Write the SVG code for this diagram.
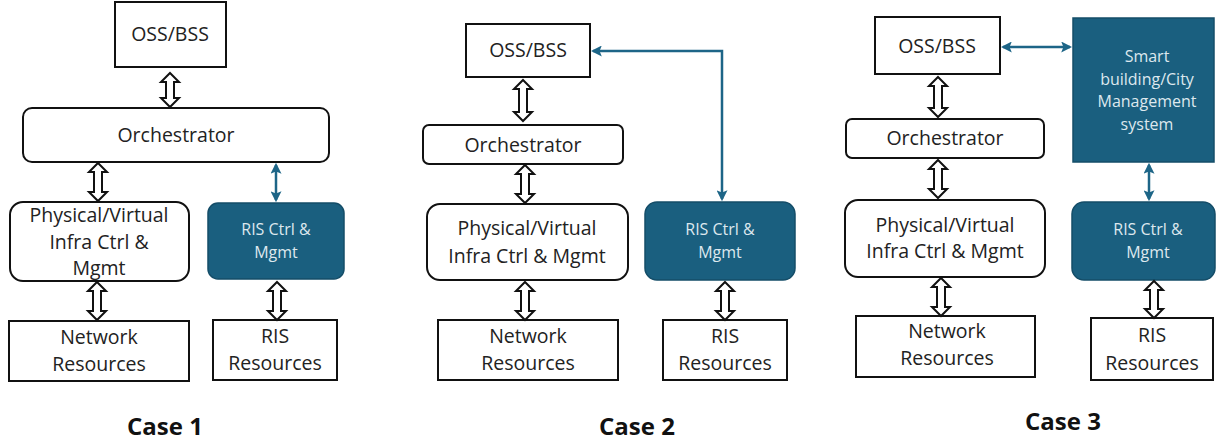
<svg xmlns="http://www.w3.org/2000/svg" width="1216" height="444" viewBox="0 0 1216 444">
<style>
.box{fill:#ffffff;stroke:#111111;stroke-width:2}
.tbox{fill:#1a5f7f;stroke:#144d68;stroke-width:1.5}
.t{font-family:"Open Sans","Liberation Sans",sans-serif;font-size:19.5px;fill:#222222;text-anchor:middle}
.tw{font-family:"Open Sans","Liberation Sans",sans-serif;font-size:16px;fill:#dde8ee;text-anchor:middle}
.case{font-family:"Open Sans","Liberation Sans",sans-serif;font-size:24px;font-weight:bold;fill:#111111;text-anchor:middle}
.ha{fill:#ffffff;stroke:#111111;stroke-width:2;stroke-linejoin:miter}
.ba{fill:none;stroke:#1d6587;stroke-width:2.5;marker-start:url(#ah);marker-end:url(#ah)}
</style>
<defs>
<marker id="ah" viewBox="0 0 10 10" refX="8" refY="5" markerWidth="4.4" markerHeight="4.4" orient="auto-start-reverse" markerUnits="strokeWidth">
<path d="M0,0 L10,5 L0,10 L2,5 Z" fill="#1d6587"/>
</marker>
</defs>

<!-- Case 1 -->
<g id="c1-oss"><rect class="box" x="115" y="2" width="111" height="65"/><text class="t" x="170" y="41">OSS/BSS</text></g>
<g id="c1-orch"><rect class="box" x="23" y="108" width="306" height="54" rx="9"/><text class="t" x="176" y="142">Orchestrator</text></g>
<g id="c1-pv"><rect class="box" x="10" y="202" width="179" height="79" rx="13"/><text class="t" x="99" y="222">Physical/Virtual</text><text class="t" x="99" y="249">Infra Ctrl &amp;</text><text class="t" x="99" y="275">Mgmt</text></g>
<g id="c1-ris"><rect class="tbox" x="208" y="203" width="136" height="76" rx="10"/><text class="tw" x="276" y="235">RIS Ctrl &amp;</text><text class="tw" x="276" y="258">Mgmt</text></g>
<g id="c1-net"><rect class="box" x="9" y="321" width="180" height="60"/><text class="t" x="99" y="344">Network</text><text class="t" x="99" y="371">Resources</text></g>
<g id="c1-risres"><rect class="box" x="213" y="320" width="124" height="60"/><text class="t" x="275" y="343">RIS</text><text class="t" x="275" y="370">Resources</text></g>
<text class="case" x="165" y="435">Case 1</text>

<!-- Case 2 -->
<g id="c2-oss"><rect class="box" x="466" y="24" width="124" height="53"/><text class="t" x="528" y="57">OSS/BSS</text></g>
<g id="c2-orch"><rect class="box" x="423" y="125" width="200" height="39" rx="6"/><text class="t" x="523" y="152">Orchestrator</text></g>
<g id="c2-pv"><rect class="box" x="427" y="204" width="201" height="76" rx="13"/><text class="t" x="527" y="235">Physical/Virtual</text><text class="t" x="527" y="263">Infra Ctrl &amp; Mgmt</text></g>
<g id="c2-ris"><rect class="tbox" x="645" y="202" width="150" height="78" rx="12"/><text class="tw" x="720" y="235">RIS Ctrl &amp;</text><text class="tw" x="720" y="258">Mgmt</text></g>
<g id="c2-net"><rect class="box" x="438" y="320" width="180" height="60"/><text class="t" x="528" y="343">Network</text><text class="t" x="528" y="370">Resources</text></g>
<g id="c2-risres"><rect class="box" x="663" y="320" width="124" height="60"/><text class="t" x="725" y="343">RIS</text><text class="t" x="725" y="370">Resources</text></g>
<text class="case" x="637" y="435">Case 2</text>

<!-- Case 3 -->
<g id="c3-oss"><rect class="box" x="875" y="17" width="125" height="57"/><text class="t" x="937" y="53">OSS/BSS</text></g>
<g id="c3-smart"><rect x="1073" y="18" width="141" height="144" fill="#1a5f7f" stroke="#144d68" stroke-width="1.5"/><text class="tw" x="1147" y="62">Smart</text><text class="tw" x="1147" y="85">building/City</text><text class="tw" x="1147" y="107">Management</text><text class="tw" x="1147" y="130">system</text></g>
<g id="c3-orch"><rect class="box" x="846" y="119" width="198" height="39" rx="6"/><text class="t" x="945" y="145">Orchestrator</text></g>
<g id="c3-pv"><rect class="box" x="845" y="200" width="200" height="77" rx="13"/><text class="t" x="945" y="232">Physical/Virtual</text><text class="t" x="945" y="258">Infra Ctrl &amp; Mgmt</text></g>
<g id="c3-ris"><rect class="tbox" x="1072" y="202" width="143" height="78" rx="12"/><text class="tw" x="1148" y="235">RIS Ctrl &amp;</text><text class="tw" x="1148" y="258">Mgmt</text></g>
<g id="c3-net"><rect class="box" x="856" y="316" width="179" height="61"/><text class="t" x="947" y="338">Network</text><text class="t" x="947" y="365">Resources</text></g>
<g id="c3-risres"><rect class="box" x="1091" y="318" width="122" height="62"/><text class="t" x="1152" y="342">RIS</text><text class="t" x="1152" y="370">Resources</text></g>
<text class="case" x="1063" y="430">Case 3</text>

<g id="connectors">
<path class="ha" d="M170,73 L179,82 L174,82 L174,98 L179,98 L170,107 L161,98 L166,98 L166,82 L161,82 Z"/>
<path class="ha" d="M98,163 L107,172 L102,172 L102,192 L107,192 L98,201 L89,192 L94,192 L94,172 L89,172 Z"/>
<path class="ha" d="M97,282 L106,291 L101,291 L101,311 L106,311 L97,320 L88,311 L93,311 L93,291 L88,291 Z"/>
<path class="ha" d="M277,282 L286,291 L281,291 L281,311 L286,311 L277,320 L268,311 L273,311 L273,291 L268,291 Z"/>

<path class="ha" d="M523,80 L532,89 L527,89 L527,112 L532,112 L523,121 L514,112 L519,112 L519,89 L514,89 Z"/>
<path class="ha" d="M525,165 L534,174 L529,174 L529,194 L534,194 L525,203 L516,194 L521,194 L521,174 L516,174 Z"/>
<path class="ha" d="M525,282 L534,291 L529,291 L529,311 L534,311 L525,320 L516,311 L521,311 L521,291 L516,291 Z"/>
<path class="ha" d="M725,282 L734,291 L729,291 L729,311 L734,311 L725,320 L716,311 L721,311 L721,291 L716,291 Z"/>

<path class="ha" d="M938,77 L947,86 L942,86 L942,108 L947,108 L938,117 L929,108 L934,108 L934,86 L929,86 Z"/>
<path class="ha" d="M938,160 L947,169 L942,169 L942,189 L947,189 L938,198 L929,189 L934,189 L934,169 L929,169 Z"/>
<path class="ha" d="M941,278 L950,287 L945,287 L945,307 L950,307 L941,316 L932,307 L937,307 L937,287 L932,287 Z"/>
<path class="ha" d="M1154,281 L1163,290 L1158,290 L1158,309 L1163,309 L1154,318 L1145,309 L1150,309 L1150,290 L1145,290 Z"/>

<path class="ba" d="M276,165 L276,200"/>
<path class="ba" d="M593,51 L722,51 L722,199"/>
<path class="ba" d="M1003,47 L1070,47"/>
<path class="ba" d="M1149,165 L1149,199"/>
</g>
</svg>
